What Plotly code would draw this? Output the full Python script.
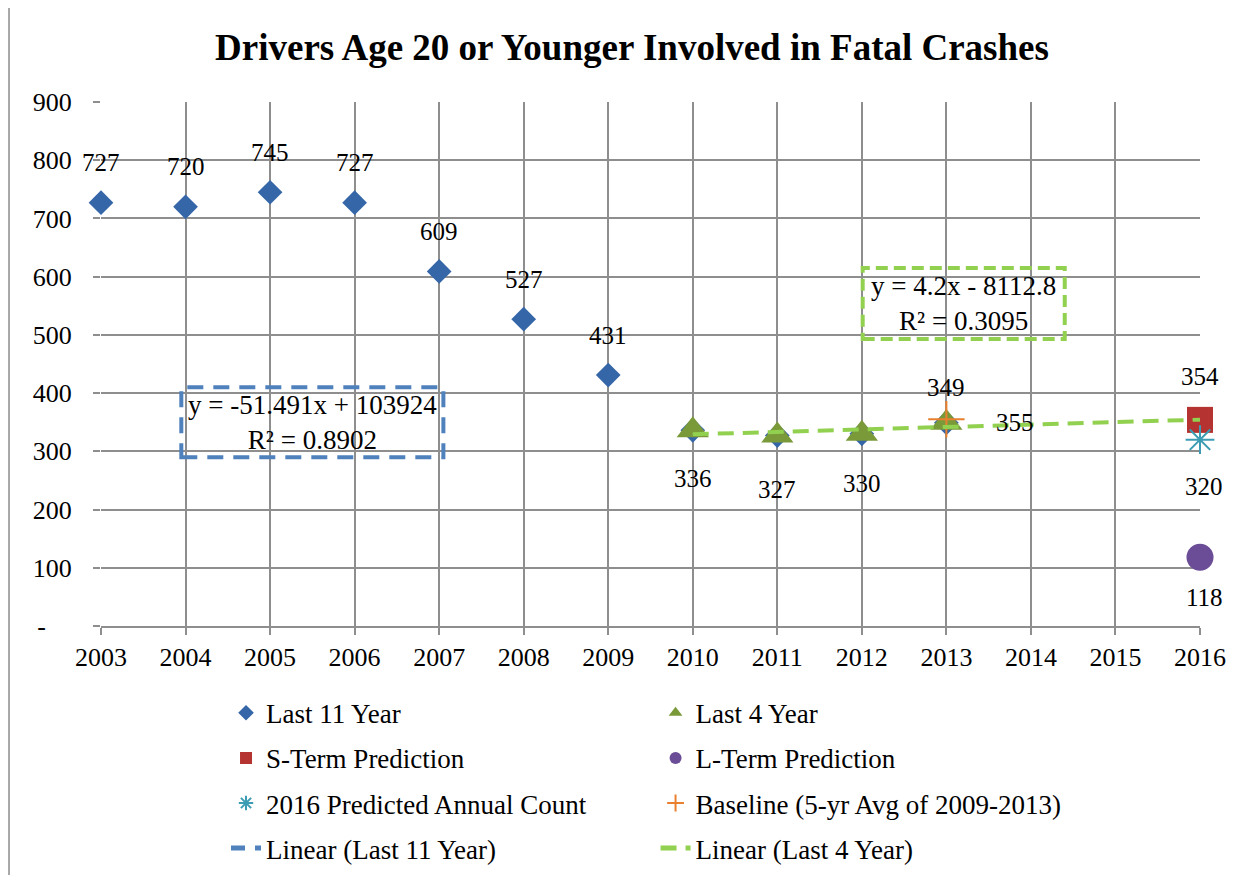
import plotly.graph_objects as go

# data
years_11 = [2003, 2004, 2005, 2006, 2007, 2008, 2009, 2010, 2011, 2012, 2013]
last_11 = [727, 720, 745, 727, 609, 527, 431, 336, 327, 330, 349]
years_4 = [2010, 2011, 2012, 2013]
last_4 = [336, 327, 330, 349]
pred_year = [2016]
s_term = [354]
l_term = [118]
predicted_2016 = [320]
base_year = [2013]
baseline = [355]
trend4_x = [2010, 2016]
trend4_y = [329.2, 354.4]

eq_11 = "y = -51.491x + 103924<br>R² = 0.8902"
eq_4 = "y = 4.2x - 8112.8<br>R² = 0.3095"

FONT = "Liberation Serif, Times New Roman, serif"
BLUE = "#3466A8"
GREEN = "#7A9A3A"
RED = "#B53330"
PURPLE = "#6A4C97"
TEAL = "#3C9CB4"
ORANGE = "#E8802F"
BLUE_LINE = "#4F81BD"
GREEN_LINE = "#92D050"
GRID = "#8E8E8E"

fig = go.Figure()

fig.add_trace(go.Scatter(x=years_11, y=last_11, mode="markers", name="Last 11 Year",
                         marker=dict(symbol="diamond", size=19, color=BLUE),
                         legend="legend", legendgroup="a", cliponaxis=False))
fig.add_trace(go.Scatter(x=years_4, y=last_4, mode="markers", name="Last 4 Year",
                         marker=dict(symbol="triangle-up", size=28, color=GREEN),
                         legend="legend2", legendgroup="b", cliponaxis=False))
fig.add_trace(go.Scatter(x=pred_year, y=s_term, mode="markers", name="S-Term Prediction",
                         marker=dict(symbol="square", size=26, color=RED),
                         legend="legend", legendgroup="c", cliponaxis=False))
fig.add_trace(go.Scatter(x=pred_year, y=l_term, mode="markers", name="L-Term Prediction",
                         marker=dict(symbol="circle", size=27, color=PURPLE),
                         legend="legend2", legendgroup="d", cliponaxis=False))
fig.add_trace(go.Scatter(x=pred_year, y=predicted_2016, mode="markers",
                         name="2016 Predicted Annual Count",
                         marker=dict(symbol="asterisk-open", size=24, color=TEAL,
                                     line=dict(color=TEAL, width=2)),
                         legend="legend", legendgroup="e", cliponaxis=False))
fig.add_trace(go.Scatter(x=base_year, y=baseline, mode="markers",
                         name="Baseline (5-yr Avg of 2009-2013)",
                         marker=dict(symbol="cross-thin-open", size=26, color=ORANGE,
                                     line=dict(color=ORANGE, width=2)),
                         legend="legend2", legendgroup="f", cliponaxis=False))
fig.add_trace(go.Scatter(x=[None], y=[None], mode="lines", name="Linear (Last 11 Year)",
                         line=dict(color=BLUE_LINE, width=4, dash="14px,10px"),
                         legend="legend", legendgroup="g"))
fig.add_trace(go.Scatter(x=trend4_x, y=trend4_y, mode="lines", name="Linear (Last 4 Year)",
                         line=dict(color=GREEN_LINE, width=4, dash="16px,9px"),
                         legend="legend2", legendgroup="h", cliponaxis=False))

# data labels
annos = []
def label(x, y, dx=0, dy=0):
    annos.append(dict(x=x, y=y, xref="x", yref="y", text=str(y), showarrow=False,
                      xshift=dx, yshift=dy, font=dict(family=FONT, size=25, color="black")))

for x, y in zip(years_11[:7], last_11[:7]):
    label(x, y, dy=40)
for x, y, s in zip(years_4[:3], last_4[:3], [-48, -54, -50]):
    label(x, y, dy=s)
label(years_4[3], last_4[3], dy=35)
label(base_year[0], baseline[0], dx=69, dy=-3)
label(pred_year[0], s_term[0], dy=43)
label(pred_year[0], predicted_2016[0], dx=4, dy=-47)
label(pred_year[0], l_term[0], dx=4, dy=-40)

# trendline equation boxes
annos.append(dict(x=2005.5, y=350, xref="x", yref="y", text=eq_11, showarrow=False,
                  font=dict(family=FONT, size=27, color="black")))
annos.append(dict(x=2013.2, y=554, xref="x", yref="y", text=eq_4, showarrow=False,
                  font=dict(family=FONT, size=27, color="black")))

shapes = [
    dict(type="rect", xref="x", yref="y", x0=2003.95, x1=2007.05, y0=290, y1=410,
         line=dict(color=BLUE_LINE, width=4, dash="16px,10px")),
    dict(type="rect", xref="x", yref="y", x0=2012.01, x1=2014.4, y0=493, y1=615,
         line=dict(color=GREEN_LINE, width=4, dash="12px,6px")),
    dict(type="line", xref="paper", yref="paper", x0=-0.0837, x1=-0.0837, y0=-0.6, y1=1.3,
         line=dict(color="#8C8C8C", width=1.5)),
]

legend_style = dict(xanchor="left", yanchor="top", orientation="v",
                    xref="container", yref="container",
                    font=dict(family=FONT, size=27, color="black"), tracegroupgap=7,
                    bgcolor="rgba(0,0,0,0)", itemsizing="constant")

fig.update_layout(
    width=1253, height=875,
    paper_bgcolor="white", plot_bgcolor="white",
    margin=dict(l=93, r=61, t=94, b=257, autoexpand=False),
    font=dict(family=FONT, size=26, color="black"),
    showlegend=True,
    title=dict(text="<b>Drivers Age 20 or Younger Involved in Fatal Crashes</b>",
               font=dict(family=FONT, size=37, color="black"),
               x=0.498, xref="container", xanchor="center",
               y=1 - 39 / 875, yref="container", yanchor="middle"),
    xaxis=dict(range=[2003, 2016], tickvals=list(range(2003, 2017)),
               showgrid=True, gridcolor=GRID, gridwidth=1.5,
               showline=True, linecolor=GRID, linewidth=1.5,
               ticks="outside", ticklen=7, tickcolor=GRID, tickwidth=1.5,
               tickfont=dict(family=FONT, size=26, color="black"), zeroline=False),
    yaxis=dict(range=[0, 900], tickvals=list(range(0, 901, 100)),
               ticktext=["-\u00a0\u00a0\u00a0\u00a0"] + [str(v) for v in range(100, 901, 100)],
               showgrid=True, gridcolor=GRID, gridwidth=1.5,
               showline=False, ticks="outside", ticklen=7, tickcolor=GRID, tickwidth=1.5,
               ticklabelstandoff=16,
               tickfont=dict(family=FONT, size=26, color="black"), zeroline=False),
    legend=dict(x=0.174, y=0.2220, **legend_style),
    legend2=dict(x=0.5168, y=0.2220, **legend_style),
    annotations=annos,
    shapes=shapes,
)

fig.write_html("out.html")
